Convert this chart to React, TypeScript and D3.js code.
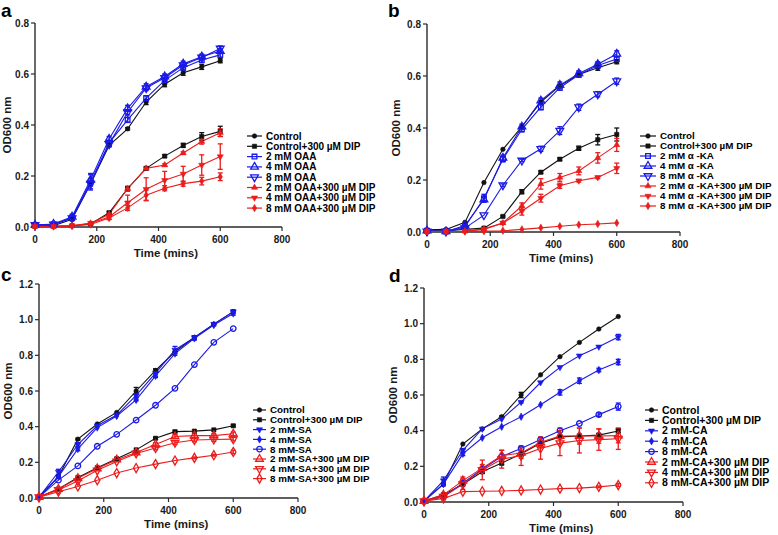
import React from "react";
import * as d3 from "d3";

const TIMES = [0, 60, 120, 180, 240, 300, 360, 420, 480, 540, 600];
const X_TICKS = [0, 200, 400, 600, 800];
const Y_TICKS_AB = [0, 0.2, 0.4, 0.6, 0.8];
const Y_TICKS_CD = [0, 0.2, 0.4, 0.6, 0.8, 1.0, 1.2];

// Panel a
const A_CONTROL = [0.005, 0.005, 0.03, 0.17, 0.32, 0.385, 0.49, 0.56, 0.605, 0.628, 0.652];
const A_CONTROL_DIP = [0.003, 0.003, 0.005, 0.012, 0.056, 0.151, 0.23, 0.278, 0.32, 0.355, 0.375];
const A_OAA2 = [0.008, 0.01, 0.035, 0.175, 0.33, 0.42, 0.505, 0.575, 0.625, 0.655, 0.675];
const A_OAA4 = [0.008, 0.012, 0.04, 0.185, 0.345, 0.465, 0.55, 0.59, 0.64, 0.668, 0.69];
const A_OAA8 = [0.008, 0.01, 0.035, 0.17, 0.325, 0.45, 0.545, 0.585, 0.635, 0.665, 0.7];
const A_OAA2_DIP = [0.002, 0.002, 0.005, 0.015, 0.05, 0.15, 0.23, 0.243, 0.29, 0.335, 0.37];
const A_OAA4_DIP = [0.002, 0.002, 0.005, 0.015, 0.039, 0.095, 0.148, 0.183, 0.208, 0.243, 0.276];
const A_OAA8_DIP = [0.002, 0.002, 0.004, 0.01, 0.035, 0.075, 0.125, 0.152, 0.17, 0.18, 0.197];
const A_CONTROL_ERR = [0, 0, 0, 0, 0.005, 0.005, 0.01, 0.01, 0.01, 0.01, 0.008];
const A_CONTROL_DIP_ERR = [0, 0, 0, 0, 0.005, 0.005, 0.005, 0.005, 0.008, 0.015, 0.02];
const A_OAA2_ERR = [0.005, 0.005, 0.01, 0.03, 0.01, 0.01, 0.01, 0.01, 0.01, 0.01, 0.01];
const A_OAA4_ERR = [0.005, 0.005, 0.01, 0.025, 0.01, 0.012, 0.012, 0.01, 0.01, 0.01, 0.01];
const A_OAA8_ERR = [0.005, 0.005, 0.01, 0.02, 0.01, 0.01, 0.01, 0.01, 0.01, 0.01, 0.01];
const A_OAA2_DIP_ERR = [0, 0, 0, 0, 0.005, 0.01, 0.005, 0.005, 0.005, 0.01, 0.015];
const A_OAA4_DIP_ERR = [0, 0, 0, 0, 0.01, 0.03, 0.045, 0.035, 0.03, 0.04, 0.05];
const A_OAA8_DIP_ERR = [0, 0, 0, 0, 0.005, 0.01, 0.02, 0.01, 0.01, 0.015, 0.015];

// Panel b
const B_CONTROL = [0.008, 0.01, 0.037, 0.19, 0.318, 0.405, 0.5, 0.562, 0.606, 0.632, 0.655];
const B_CONTROL_DIP = [0.005, 0.005, 0.01, 0.015, 0.06, 0.155, 0.23, 0.28, 0.322, 0.355, 0.375];
const B_KA2 = [0.005, 0.002, 0.02, 0.13, 0.28, 0.395, 0.48, 0.555, 0.605, 0.64, 0.665];
const B_KA4 = [0.005, 0.002, 0.025, 0.125, 0.285, 0.405, 0.505, 0.565, 0.61, 0.645, 0.685];
const B_KA8 = [0.002, 0.002, 0.015, 0.065, 0.18, 0.275, 0.32, 0.39, 0.48, 0.53, 0.58];
const B_KA2_DIP = [0.002, 0.002, 0.003, 0.012, 0.035, 0.1, 0.185, 0.21, 0.235, 0.285, 0.335];
const B_KA4_DIP = [0.002, 0.002, 0.003, 0.01, 0.035, 0.08, 0.13, 0.178, 0.197, 0.21, 0.245];
const B_KA8_DIP = [0.002, 0.002, 0.002, 0.003, 0.005, 0.01, 0.016, 0.022, 0.028, 0.031, 0.035];
const B_CONTROL_ERR = [0, 0, 0, 0, 0, 0, 0, 0, 0, 0.01, 0.008];
const B_CONTROL_DIP_ERR = [0, 0, 0, 0, 0.003, 0.008, 0.005, 0.005, 0.008, 0.02, 0.025];
const B_KA2_ERR = [0, 0, 0.005, 0.015, 0.01, 0.01, 0.01, 0.01, 0.01, 0.01, 0.01];
const B_KA4_ERR = [0, 0, 0.005, 0.01, 0.01, 0.01, 0.01, 0.012, 0.01, 0.01, 0.012];
const B_KA8_ERR = [0, 0, 0, 0, 0.005, 0.005, 0.01, 0.015, 0.012, 0.01, 0.012];
const B_KA2_DIP_ERR = [0, 0, 0, 0, 0.005, 0.012, 0.02, 0.015, 0.015, 0.02, 0.025];
const B_KA4_DIP_ERR = [0, 0, 0, 0, 0.005, 0.015, 0.015, 0.01, 0.005, 0.005, 0.02];
const B_KA8_DIP_ERR = [0, 0, 0, 0, 0, 0, 0, 0, 0, 0, 0];

// Panel c
const C_CONTROL = [0.005, 0.12, 0.33, 0.415, 0.48, 0.6, 0.715, 0.82, 0.9, 0.975, 1.045];
const C_CONTROL_DIP = [0.005, 0.05, 0.115, 0.17, 0.22, 0.27, 0.335, 0.372, 0.375, 0.382, 0.405];
const C_SA2 = [0.005, 0.146, 0.3, 0.405, 0.465, 0.575, 0.7, 0.83, 0.9, 0.975, 1.045];
const C_SA4 = [0.005, 0.12, 0.275, 0.395, 0.46, 0.55, 0.685, 0.81, 0.895, 0.97, 1.035];
const C_SA8 = [0.005, 0.1, 0.18, 0.29, 0.357, 0.437, 0.52, 0.615, 0.748, 0.873, 0.95];
const C_SA2_DIP = [0.005, 0.05, 0.11, 0.165, 0.215, 0.255, 0.3, 0.345, 0.35, 0.35, 0.36];
const C_SA4_DIP = [0.005, 0.045, 0.095, 0.155, 0.205, 0.25, 0.28, 0.31, 0.325, 0.328, 0.33];
const C_SA8_DIP = [0.005, 0.035, 0.065, 0.1, 0.14, 0.168, 0.19, 0.21, 0.225, 0.24, 0.258];
const C_CONTROL_ERR = [0, 0, 0.005, 0, 0, 0.02, 0.01, 0, 0, 0, 0];
const C_CONTROL_DIP_ERR = [0, 0, 0, 0, 0, 0, 0.005, 0.005, 0, 0, 0.005];
const C_SA2_ERR = [0, 0.015, 0.01, 0, 0, 0.01, 0.02, 0.02, 0.01, 0.005, 0.01];
const C_SA4_ERR = [0, 0.01, 0.01, 0, 0, 0.005, 0.01, 0.01, 0.01, 0.005, 0.01];
const C_SA8_ERR = [0, 0, 0, 0, 0, 0, 0, 0, 0, 0, 0];
const C_SA2_DIP_ERR = [0, 0, 0, 0, 0, 0.005, 0.01, 0.01, 0.01, 0.01, 0.01];
const C_SA4_DIP_ERR = [0, 0, 0, 0, 0, 0.005, 0.01, 0.01, 0.01, 0.01, 0.01];
const C_SA8_DIP_ERR = [0, 0, 0, 0, 0, 0, 0, 0, 0.005, 0.005, 0.01];

// Panel d
const D_CONTROL = [0.005, 0.1, 0.325, 0.41, 0.478, 0.6, 0.713, 0.815, 0.895, 0.97, 1.04];
const D_CONTROL_DIP = [0.005, 0.04, 0.1, 0.17, 0.218, 0.27, 0.33, 0.365, 0.37, 0.375, 0.398];
const D_CA2 = [0.005, 0.12, 0.29, 0.41, 0.465, 0.56, 0.67, 0.755, 0.82, 0.87, 0.925];
const D_CA4 = [0.005, 0.1, 0.27, 0.36, 0.422, 0.478, 0.545, 0.615, 0.68, 0.74, 0.785];
const D_CA8 = [0.005, 0.03, 0.105, 0.185, 0.255, 0.3, 0.35, 0.4, 0.44, 0.49, 0.535];
const D_CA2_DIP = [0.005, 0.04, 0.12, 0.19, 0.26, 0.275, 0.335, 0.37, 0.37, 0.37, 0.372];
const D_CA4_DIP = [0.005, 0.03, 0.1, 0.18, 0.24, 0.26, 0.3, 0.33, 0.345, 0.35, 0.355];
const D_CA8_DIP = [0.005, 0.02, 0.058, 0.06, 0.062, 0.065, 0.07, 0.075, 0.078, 0.085, 0.095];
const D_CONTROL_ERR = [0, 0, 0, 0, 0.005, 0.015, 0, 0, 0, 0, 0];
const D_CONTROL_DIP_ERR = [0, 0, 0.01, 0.01, 0.01, 0.01, 0.01, 0.01, 0.01, 0.01, 0.01];
const D_CA2_ERR = [0, 0.02, 0.01, 0, 0, 0.005, 0, 0, 0, 0, 0.015];
const D_CA4_ERR = [0, 0.01, 0.01, 0, 0, 0, 0, 0.015, 0.015, 0.01, 0.015];
const D_CA8_ERR = [0, 0.01, 0, 0, 0, 0, 0, 0, 0, 0.01, 0.02];
const D_CA2_DIP_ERR = [0, 0.01, 0.02, 0.02, 0.03, 0.03, 0.03, 0.045, 0.045, 0.04, 0.04];
const D_CA4_DIP_ERR = [0, 0.01, 0.03, 0.055, 0.05, 0.055, 0.06, 0.07, 0.07, 0.06, 0.06];
const D_CA8_DIP_ERR = [0, 0, 0, 0, 0, 0, 0, 0, 0, 0.005, 0.008];

const BLACK = "#111111";
const BLUE = "#1a1ae8";
const RED = "#ea1c1c";
const FONT = "'Liberation Sans', Arial, Helvetica, sans-serif";

type Marker = "circle" | "square" | "triUp" | "triDown" | "diamond";
interface Series {
  label: string;
  color: string;
  marker: Marker;
  filled: boolean;
  values: number[];
  errors: number[];
}

const SERIES_A: Series[] = [
  { label: "Control", color: BLACK, marker: "circle", filled: true, values: A_CONTROL, errors: A_CONTROL_ERR },
  { label: "Control+300 \u00b5M DIP", color: BLACK, marker: "square", filled: true, values: A_CONTROL_DIP, errors: A_CONTROL_DIP_ERR },
  { label: "2 mM OAA", color: BLUE, marker: "square", filled: false, values: A_OAA2, errors: A_OAA2_ERR },
  { label: "4 mM OAA", color: BLUE, marker: "triUp", filled: false, values: A_OAA4, errors: A_OAA4_ERR },
  { label: "8 mM OAA", color: BLUE, marker: "triDown", filled: false, values: A_OAA8, errors: A_OAA8_ERR },
  { label: "2 mM OAA+300 \u00b5M DIP", color: RED, marker: "triUp", filled: true, values: A_OAA2_DIP, errors: A_OAA2_DIP_ERR },
  { label: "4 mM OAA+300 \u00b5M DIP", color: RED, marker: "triDown", filled: true, values: A_OAA4_DIP, errors: A_OAA4_DIP_ERR },
  { label: "8 mM OAA+300 \u00b5M DIP", color: RED, marker: "diamond", filled: true, values: A_OAA8_DIP, errors: A_OAA8_DIP_ERR },
];

const SERIES_B: Series[] = [
  { label: "Control", color: BLACK, marker: "circle", filled: true, values: B_CONTROL, errors: B_CONTROL_ERR },
  { label: "Control+300 \u00b5M DIP", color: BLACK, marker: "square", filled: true, values: B_CONTROL_DIP, errors: B_CONTROL_DIP_ERR },
  { label: "2 mM \u03b1 -KA", color: BLUE, marker: "square", filled: false, values: B_KA2, errors: B_KA2_ERR },
  { label: "4 mM \u03b1 -KA", color: BLUE, marker: "triUp", filled: false, values: B_KA4, errors: B_KA4_ERR },
  { label: "8 mM \u03b1 -KA", color: BLUE, marker: "triDown", filled: false, values: B_KA8, errors: B_KA8_ERR },
  { label: "2 mM \u03b1 -KA+300 \u00b5M DIP", color: RED, marker: "triUp", filled: true, values: B_KA2_DIP, errors: B_KA2_DIP_ERR },
  { label: "4 mM \u03b1 -KA+300 \u00b5M DIP", color: RED, marker: "triDown", filled: true, values: B_KA4_DIP, errors: B_KA4_DIP_ERR },
  { label: "8 mM \u03b1 -KA+300 \u00b5M DIP", color: RED, marker: "diamond", filled: true, values: B_KA8_DIP, errors: B_KA8_DIP_ERR },
];

const SERIES_C: Series[] = [
  { label: "Control", color: BLACK, marker: "circle", filled: true, values: C_CONTROL, errors: C_CONTROL_ERR },
  { label: "Control+300 \u00b5M DIP", color: BLACK, marker: "square", filled: true, values: C_CONTROL_DIP, errors: C_CONTROL_DIP_ERR },
  { label: "2 mM-SA", color: BLUE, marker: "triDown", filled: true, values: C_SA2, errors: C_SA2_ERR },
  { label: "4 mM-SA", color: BLUE, marker: "diamond", filled: true, values: C_SA4, errors: C_SA4_ERR },
  { label: "8 mM-SA", color: BLUE, marker: "circle", filled: false, values: C_SA8, errors: C_SA8_ERR },
  { label: "2 mM-SA+300 \u00b5M DIP", color: RED, marker: "triUp", filled: false, values: C_SA2_DIP, errors: C_SA2_DIP_ERR },
  { label: "4 mM-SA+300 \u00b5M DIP", color: RED, marker: "triDown", filled: false, values: C_SA4_DIP, errors: C_SA4_DIP_ERR },
  { label: "8 mM-SA+300 \u00b5M DIP", color: RED, marker: "diamond", filled: false, values: C_SA8_DIP, errors: C_SA8_DIP_ERR },
];

const SERIES_D: Series[] = [
  { label: "Control", color: BLACK, marker: "circle", filled: true, values: D_CONTROL, errors: D_CONTROL_ERR },
  { label: "Control+300 \u00b5M DIP", color: BLACK, marker: "square", filled: true, values: D_CONTROL_DIP, errors: D_CONTROL_DIP_ERR },
  { label: "2 mM-CA", color: BLUE, marker: "triDown", filled: true, values: D_CA2, errors: D_CA2_ERR },
  { label: "4 mM-CA", color: BLUE, marker: "diamond", filled: true, values: D_CA4, errors: D_CA4_ERR },
  { label: "8 mM-CA", color: BLUE, marker: "circle", filled: false, values: D_CA8, errors: D_CA8_ERR },
  { label: "2 mM-CA+300 \u00b5M DIP", color: RED, marker: "triUp", filled: false, values: D_CA2_DIP, errors: D_CA2_DIP_ERR },
  { label: "4 mM-CA+300 \u00b5M DIP", color: RED, marker: "triDown", filled: false, values: D_CA4_DIP, errors: D_CA4_DIP_ERR },
  { label: "8 mM-CA+300 \u00b5M DIP", color: RED, marker: "diamond", filled: false, values: D_CA8_DIP, errors: D_CA8_DIP_ERR },
];

interface PanelCfg {
  letter: string;
  letterX: number;
  letterY: number;
  series: Series[];
  yMax: number;
  yTicks: number[];
  x0: number;
  x1: number;
  y0: number;
  yTop: number;
  titleX: number;
  legendLineX: number;
  legendTextX: number;
  legendY: number;
  legendStep: number;
  legendFont: number;
}

const PANELS: PanelCfg[] = [
  { letter: "a", letterX: 1, letterY: 17, series: SERIES_A, yMax: 0.8, yTicks: Y_TICKS_AB, x0: 35, x1: 282, y0: 227, yTop: 23, titleX: 7, legendLineX: 247, legendTextX: 266, legendY: 136, legendStep: 10.3, legendFont: 10 },
  { letter: "b", letterX: 388, letterY: 17, series: SERIES_B, yMax: 0.8, yTicks: Y_TICKS_AB, x0: 427, x1: 680, y0: 232, yTop: 24, titleX: 396, legendLineX: 640, legendTextX: 660, legendY: 136, legendStep: 10, legendFont: 9.8 },
  { letter: "c", letterX: 1, letterY: 281, series: SERIES_C, yMax: 1.2, yTicks: Y_TICKS_CD, x0: 39, x1: 298, y0: 498, yTop: 284, titleX: 8, legendLineX: 253, legendTextX: 270, legendY: 410, legendStep: 9.8, legendFont: 9.8 },
  { letter: "d", letterX: 389, letterY: 282, series: SERIES_D, yMax: 1.2, yTicks: Y_TICKS_CD, x0: 424, x1: 683, y0: 502, yTop: 288, titleX: 393, legendLineX: 645, legendTextX: 662, legendY: 410, legendStep: 10.4, legendFont: 10.5 },
];

function markerPath(m: Marker, filled: boolean): string {
  const sym = d3.symbol();
  if (m === "circle") return sym.type(d3.symbolCircle).size(filled ? 16 : 24)() || "";
  if (m === "square") return sym.type(d3.symbolSquare).size(filled ? 18 : 22)() || "";
  if (m === "diamond") return sym.type(d3.symbolDiamond).size(filled ? 16 : 24)() || "";
  return sym.type(d3.symbolTriangle).size(filled ? 16 : 26)() || "";
}

function MarkerShape({ s, x, y }: { s: Series; x: number; y: number }) {
  const rot = s.marker === "triDown" ? " rotate(180)" : "";
  return (
    <path
      d={markerPath(s.marker, s.filled)}
      transform={`translate(${x},${y})${rot}`}
      fill={s.filled ? s.color : "white"}
      fillOpacity={s.filled ? 1 : 0}
      stroke={s.color}
      strokeWidth={s.filled ? 0.6 : 1.3}
    />
  );
}

function Panel({ cfg }: { cfg: PanelCfg }) {
  const x = d3.scaleLinear().domain([0, 800]).range([cfg.x0, cfg.x1]);
  const y = d3.scaleLinear().domain([0, cfg.yMax]).range([cfg.y0, cfg.yTop]);
  const line = d3
    .line<number>()
    .x((_, i) => x(TIMES[i]))
    .y((v) => y(v));
  const axisColor = "#2a2a2a";
  const fmt = d3.format(".1f");
  const titleXc = cfg.x0 + 0.53 * (cfg.x1 - cfg.x0);
  return (
    <g>
      <text x={cfg.letterX} y={cfg.letterY} fontSize={19} fontWeight="bold" fontFamily={FONT} fill="#000">
        {cfg.letter}
      </text>
      {/* axes */}
      <line x1={cfg.x0} x2={cfg.x0} y1={cfg.y0} y2={cfg.yTop} stroke={axisColor} strokeWidth={1.4} />
      <line x1={cfg.x0} x2={cfg.x1} y1={cfg.y0} y2={cfg.y0} stroke={axisColor} strokeWidth={1.4} />
      {cfg.yTicks.map((t) => (
        <g key={"y" + t}>
          <line x1={cfg.x0 - 4} x2={cfg.x0} y1={y(t)} y2={y(t)} stroke={axisColor} strokeWidth={1.2} />
          <text x={cfg.x0 - 6} y={y(t)} dy="0.35em" textAnchor="end" fontSize={10} fontWeight="bold" fontFamily={FONT} fill="#1a1a1a">
            {fmt(t)}
          </text>
        </g>
      ))}
      {X_TICKS.map((t) => (
        <g key={"x" + t}>
          <line x1={x(t)} x2={x(t)} y1={cfg.y0} y2={cfg.y0 + 4} stroke={axisColor} strokeWidth={1.2} />
          <text x={x(t)} y={cfg.y0 + 16} textAnchor="middle" fontSize={10} fontWeight="bold" fontFamily={FONT} fill="#1a1a1a">
            {t}
          </text>
        </g>
      ))}
      <text x={titleXc} y={cfg.y0 + 30} textAnchor="middle" fontSize={11.5} fontWeight="bold" fontFamily={FONT} fill="#1a1a1a">
        Time (mins)
      </text>
      <text
        transform={`translate(${cfg.titleX},${(cfg.y0 + cfg.yTop) / 2}) rotate(-90)`}
        dy="0.35em"
        textAnchor="middle"
        fontSize={11.5}
        fontWeight="bold"
        fontFamily={FONT}
        fill="#1a1a1a"
      >
        OD600 nm
      </text>
      {/* lines */}
      {cfg.series.map((s, si) => (
        <path key={"l" + si} d={line(s.values) || ""} fill="none" stroke={s.color} strokeWidth={1.1} />
      ))}
      {/* error bars */}
      {cfg.series.map((s, si) =>
        s.values.map((v, i) => {
          const e = s.errors[i];
          if (!e) return null;
          const cx = x(TIMES[i]);
          return (
            <g key={"e" + si + "-" + i} stroke={s.color} strokeWidth={1.3}>
              <line x1={cx} x2={cx} y1={y(v - e)} y2={y(v + e)} />
              <line x1={cx - 2.5} x2={cx + 2.5} y1={y(v + e)} y2={y(v + e)} />
              <line x1={cx - 2.5} x2={cx + 2.5} y1={y(v - e)} y2={y(v - e)} />
            </g>
          );
        })
      )}
      {/* markers */}
      {cfg.series.map((s, si) =>
        s.values.map((v, i) => <MarkerShape key={"m" + si + "-" + i} s={s} x={x(TIMES[i])} y={y(v)} />)
      )}
      {/* legend */}
      {cfg.series.map((s, si) => {
        const ly = cfg.legendY + si * cfg.legendStep;
        const lx2 = cfg.legendTextX - 4;
        return (
          <g key={"lg" + si}>
            <line x1={cfg.legendLineX} x2={lx2} y1={ly} y2={ly} stroke={s.color} strokeWidth={1.2} />
            <MarkerShape s={s} x={(cfg.legendLineX + lx2) / 2} y={ly} />
            <text x={cfg.legendTextX} y={ly} dy="0.35em" fontSize={cfg.legendFont} fontWeight="bold" fontFamily={FONT} fill="#000">
              {s.label}
            </text>
          </g>
        );
      })}
    </g>
  );
}

export default function App() {
  return (
    <svg
      width={778}
      height={535}
      viewBox="0 0 778 535"
      style={{ position: "absolute", left: 0, top: 0, background: "#fff" }}
    >
      <rect width={778} height={535} fill="#fff" />
      {PANELS.map((p) => (
        <Panel key={p.letter} cfg={p} />
      ))}
    </svg>
  );
}
